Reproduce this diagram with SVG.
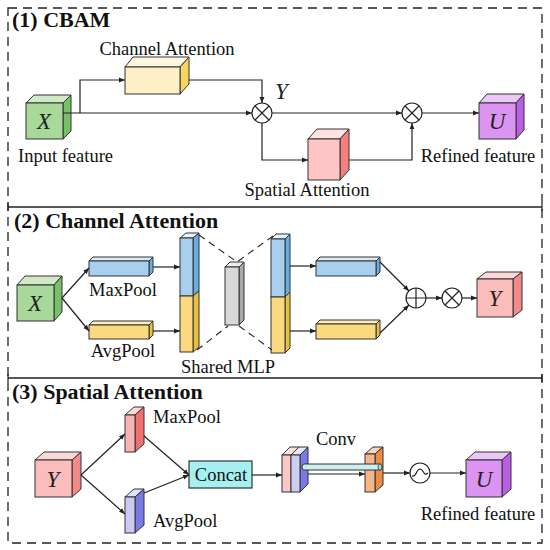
<svg xmlns="http://www.w3.org/2000/svg" width="550" height="550" viewBox="0 0 550 550">
<defs>
<style>
.t{font-family:"Liberation Serif","Times New Roman",serif;font-size:18.5px;fill:#111}
.h{font-family:"Liberation Serif","Times New Roman",serif;font-size:22px;font-weight:bold;fill:#111}
.v{font-family:"Liberation Serif","Times New Roman",serif;font-size:23px;font-style:italic;fill:#222}
.c{text-anchor:middle}
.s{stroke:#333;stroke-width:1}
.ln{fill:none;stroke:#222;stroke-width:1.2}
.ar{fill:none;stroke:#222;stroke-width:1.2;marker-end:url(#ah)}
.dl{fill:none;stroke:#222;stroke-width:1.1;stroke-dasharray:7 5}
.op{fill:#fff;stroke:#222;stroke-width:1.2}
</style>
<marker id="ah" viewBox="0 0 10 10" refX="10" refY="5" markerWidth="6" markerHeight="6" markerUnits="userSpaceOnUse" orient="auto">
<path d="M0,1 L10,5 L0,9 Z" fill="#222"/>
</marker>
</defs>
<rect x="0" y="0" width="550" height="550" fill="#fff"/>

<!-- frame -->
<g id="frame">
<rect x="8" y="8" width="534" height="535" fill="none" stroke="#222" stroke-width="1.3" stroke-dasharray="9 6"/>
<path d="M8,207 H542 M8,378 H542" stroke="#222" stroke-width="1.4" fill="none"/>
<path d="M8,203 V211 M542,203 V211 M8,374 V382 M542,374 V382" stroke="#222" stroke-width="1.2"/>
</g>

<!-- titles -->
<text class="h" x="12" y="27">(1) CBAM</text>
<text class="h" x="14" y="228">(2) Channel Attention</text>
<text class="h" x="12" y="399">(3) Spatial Attention</text>

<!-- Section 1 nodes -->
<g id="x1">
<polygon class="s" points="26,103 34,95 71,95 63,103" fill="#cfeac5"/>
<polygon class="s" points="63,103 71,95 71,131 63,139" fill="#78c068"/>
<rect class="s" x="26" y="103" width="37" height="36" fill="#a8d89a"/>
<text class="v c" x="44" y="129">X</text>
<text class="t" x="18" y="162">Input feature</text>
</g>
<g id="ca1">
<polygon class="s" points="125,67 133,57 189,57 180,67" fill="#fef7e0"/>
<polygon class="s" points="180,67 189,57 189,84 180,94" fill="#f6d560"/>
<rect class="s" x="125" y="67" width="55" height="27" fill="#fdefc8"/>
<text class="t c" x="167" y="55">Channel Attention</text>
</g>
<g id="sa1">
<polygon class="s" points="308,139 317,129 349,129 340,139" fill="#fde3e3"/>
<polygon class="s" points="340,139 349,129 349,170 340,180" fill="#f48080"/>
<rect class="s" x="308" y="139" width="32" height="41" fill="#fdc5c5"/>
<text class="t c" x="307" y="196">Spatial Attention</text>
</g>
<g id="m1">
<circle class="op" cx="262" cy="113" r="10"/>
<path class="ln" d="M255,106 L269,120 M269,106 L255,120"/>
<text class="v" x="275" y="99">Y</text>
</g>
<g id="m2">
<circle class="op" cx="412" cy="113" r="10"/>
<path class="ln" d="M405,106 L419,120 M419,106 L405,120"/>
</g>
<g id="u1">
<polygon class="s" points="479,103 487,94 524,94 516,103" fill="#ecc8f8"/>
<polygon class="s" points="516,103 524,94 524,130 516,139" fill="#bb5ee6"/>
<rect class="s" x="479" y="103" width="37" height="36" fill="#dc94f2"/>
<text class="v c" x="497" y="129">U</text>
<text class="t c" x="478" y="162">Refined feature</text>
</g>

<!-- Section 2 nodes -->
<g id="x2">
<polygon class="s" points="17,285 25,276 62,276 54,285" fill="#cfeac5"/>
<polygon class="s" points="54,285 62,276 62,312 54,321" fill="#78c068"/>
<rect class="s" x="17" y="285" width="37" height="36" fill="#a8d89a"/>
<text class="v c" x="35" y="311">X</text>
</g>
<g id="mp2">
<polygon class="s" points="89,261 93,257 153,257 149,261" fill="#d8ebf8"/>
<polygon class="s" points="149,261 153,257 153,272 149,276" fill="#6aaee0"/>
<rect class="s" x="89" y="261" width="60" height="15" fill="#a9cfee"/>
<text class="t c" x="123" y="296">MaxPool</text>
</g>
<g id="ap2">
<polygon class="s" points="89,325 93,321 153,321 149,325" fill="#fdedbd"/>
<polygon class="s" points="149,325 153,321 153,335 149,339" fill="#e8c040"/>
<rect class="s" x="89" y="325" width="60" height="14" fill="#fad97f"/>
<text class="t c" x="123" y="357">AvgPool</text>
</g>
<g id="mlpL">
<polygon class="s" points="180,238 186,233 199,233 193,238" fill="#e6f2fb"/>
<polygon class="s" points="193,238 199,233 199,291 193,296" fill="#6aaee0"/>
<polygon class="s" points="193,296 199,291 199,347 193,352" fill="#e8c040"/>
<rect class="s" x="180" y="238" width="13" height="58" fill="#a9cfee"/>
<rect class="s" x="180" y="296" width="13" height="56" fill="#fad97f"/>
</g>
<g id="mlpM">
<polygon class="s" points="225,267 230,262 244,262 239,267" fill="#eeeeee"/>
<polygon class="s" points="239,267 244,262 244,320 239,325" fill="#a9a9a9"/>
<rect class="s" x="225" y="267" width="14" height="58" fill="#d8d8d8"/>
</g>
<g id="mlpR">
<polygon class="s" points="271,239 276,234 290,234 285,239" fill="#e6f2fb"/>
<polygon class="s" points="285,239 290,234 290,292 285,297" fill="#6aaee0"/>
<polygon class="s" points="285,297 290,292 290,348 285,353" fill="#e8c040"/>
<rect class="s" x="271" y="239" width="14" height="58" fill="#a9cfee"/>
<rect class="s" x="271" y="297" width="14" height="56" fill="#fad97f"/>
<text class="t c" x="228" y="373">Shared MLP</text>
</g>
<g id="mo2">
<polygon class="s" points="316,261 320,257 380,257 376,261" fill="#d8ebf8"/>
<polygon class="s" points="376,261 380,257 380,272 376,276" fill="#6aaee0"/>
<rect class="s" x="316" y="261" width="60" height="15" fill="#a9cfee"/>
</g>
<g id="ao2">
<polygon class="s" points="316,324 320,320 380,320 376,324" fill="#fdedbd"/>
<polygon class="s" points="376,324 380,320 380,335 376,339" fill="#e8c040"/>
<rect class="s" x="316" y="324" width="60" height="15" fill="#fad97f"/>
</g>
<g id="add2">
<circle class="op" cx="416" cy="298" r="10"/>
<path class="ln" d="M406,298 H426 M416,288 V308"/>
</g>
<g id="mul2">
<circle class="op" cx="452" cy="298" r="10"/>
<path class="ln" d="M445,291 L459,305 M459,291 L445,305"/>
</g>
<g id="y2">
<polygon class="s" points="477,279 486,272 522,272 513,279" fill="#fdd8d8"/>
<polygon class="s" points="513,279 522,272 522,310 513,317" fill="#f28a8a"/>
<rect class="s" x="477" y="279" width="36" height="38" fill="#fbbcbc"/>
<text class="v c" x="495" y="306">Y</text>
</g>

<!-- Section 3 nodes -->
<g id="y3">
<polygon class="s" points="35,460 44,452 81,452 72,460" fill="#fdd8d8"/>
<polygon class="s" points="72,460 81,452 81,489 72,497" fill="#f28a8a"/>
<rect class="s" x="35" y="460" width="37" height="37" fill="#fbbcbc"/>
<text class="v c" x="53" y="487">Y</text>
</g>
<g id="mp3">
<polygon class="s" points="125,415 134,407 144,407 135,415" fill="#fdd8d8"/>
<polygon class="s" points="135,415 144,407 144,444 135,452" fill="#f07070"/>
<rect class="s" x="125" y="415" width="10" height="37" fill="#f9b5b5"/>
<text class="t" x="153" y="423">MaxPool</text>
</g>
<g id="ap3">
<polygon class="s" points="125,497 134,489 144,489 135,497" fill="#e2e2fb"/>
<polygon class="s" points="135,497 144,489 144,525 135,533" fill="#7a7ae6"/>
<rect class="s" x="125" y="497" width="10" height="36" fill="#c9c9f4"/>
<text class="t" x="153" y="527">AvgPool</text>
</g>
<g id="cc3">
<rect x="189" y="461" width="63" height="27" fill="#a5f0f0" stroke="#333" stroke-width="1.2"/>
<text class="t c" x="221" y="481">Concat</text>
</g>
<g id="cv3">
<polygon class="s" points="282,455 290,447 299,447 291,455" fill="#fde0e0"/>
<rect class="s" x="282" y="455" width="9" height="37" fill="#fbc8c8"/>
<polygon class="s" points="291,455 299,447 308,447 300,455" fill="#e6e6fb"/>
<polygon class="s" points="300,455 308,447 308,484 300,492" fill="#7a7ae6"/>
<rect class="s" x="291" y="455" width="9" height="37" fill="#cdcdf5"/>
<text class="t c" x="336" y="445">Conv</text>
</g>
<g id="or3">
<polygon class="s" points="365,454 373,447 383,447 375,454" fill="#fbd5b8"/>
<polygon class="s" points="375,454 383,447 383,485 375,492" fill="#ec8c45"/>
<rect class="s" x="365" y="454" width="10" height="38" fill="#f7b58a"/>
</g>
<g id="tube3">
<path d="M304,464 H380 A2,3 0 0 1 380,470 H304 A2,3 0 0 1 304,464 Z" fill="#cdeef0" stroke="#333" stroke-width="1"/>
<ellipse cx="380" cy="467" rx="2" ry="3" fill="#a8dde0" stroke="#333" stroke-width="0.8"/>
</g>
<g id="sg3">
<circle class="op" cx="420" cy="473" r="10"/>
<path class="ln" d="M412,476 C417,477 416,469 420,469 C424,469 423,477 428,473"/>
</g>
<g id="u3">
<polygon class="s" points="466,460 475,452 511,452 502,460" fill="#ecc8f8"/>
<polygon class="s" points="502,460 511,452 511,489 502,497" fill="#bb5ee6"/>
<rect class="s" x="466" y="460" width="36" height="37" fill="#dc94f2"/>
<text class="v c" x="484" y="487">U</text>
<text class="t c" x="478" y="520">Refined feature</text>
</g>

<!-- connectors -->
<g id="connectors">
<path class="ar" d="M63,113 H252"/>
<path class="ar" d="M80,113 V80 H125"/>
<path class="ar" d="M189,80 H262 V103"/>
<path class="ar" d="M272,113 H402"/>
<path class="ar" d="M262,123 V160 H308"/>
<path class="ar" d="M349,160 H412 V123"/>
<path class="ar" d="M422,113 H479"/>

<path class="ar" d="M62,298 L89,268"/>
<path class="ar" d="M62,298 L89,331"/>
<path class="ar" d="M153,267 H180"/>
<path class="ar" d="M153,331 H180"/>
<path class="dl" d="M199,235 L237,262 L273,236"/>
<path class="dl" d="M197,350 L228,326 M239,326 L272,350"/>
<path class="ar" d="M290,266 H316"/>
<path class="ar" d="M290,331 H316"/>
<path class="ar" d="M380,262 L409,291"/>
<path class="ar" d="M380,333 L409,305"/>
<path class="ar" d="M426,298 H442"/>
<path class="ar" d="M462,298 H477"/>

<path class="ar" d="M81,475 L125,434"/>
<path class="ar" d="M81,475 L125,514"/>
<path class="ar" d="M144,436 L189,475"/>
<path class="ar" d="M144,493 L189,475"/>
<path class="ar" d="M252,475 H282"/>
<path class="ar" d="M308,474 H365"/>
<path class="ar" d="M383,473 H410"/>
<path class="ar" d="M430,473 H466"/>
</g>
</svg>
